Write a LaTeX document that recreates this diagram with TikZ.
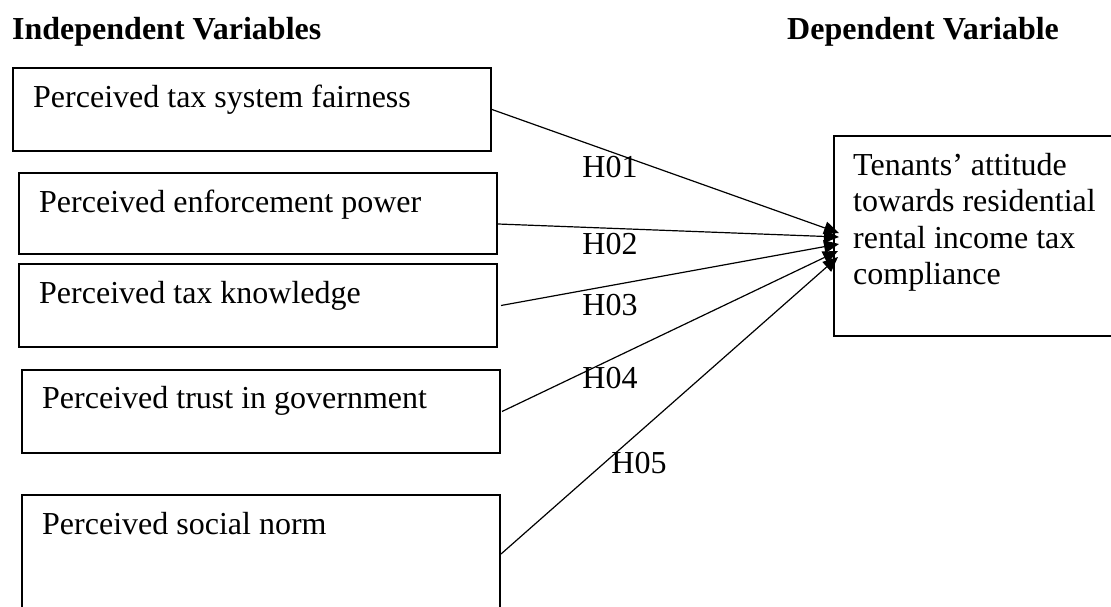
\documentclass[tikz,border=0pt]{standalone}
\usepackage{fontspec}
\setmainfont{Liberation Serif}
\usetikzlibrary{arrows.meta}
\begin{document}
\begin{tikzpicture}[x=1pt,y=-1pt,
  box/.style={draw, line width=2pt, rectangle, inner sep=0pt, anchor=north west},
  txt/.style={inner sep=0pt, anchor=base west, font=\fontsize{32}{37}\selectfont},
  head/.style={inner sep=0pt, anchor=base west, font=\fontsize{32}{37}\selectfont\bfseries},
  hyp/.style={inner sep=0pt, anchor=base, font=\fontsize{32}{37}\selectfont},
  link/.style={line width=1.2pt, -{Triangle[length=15pt,width=13pt]}}]
\useasboundingbox (0,0) rectangle (1111,607);

% headings
\node[head] (hi) at (12,40) {Independent Variables};
\node[head] (hd) at (787,40) {Dependent Variable};

% independent variable boxes
\node[box, minimum width=478pt, minimum height=83pt] (b1) at (12,67) {};
\node[box, minimum width=478pt, minimum height=81pt] (b2) at (18,172) {};
\node[box, minimum width=478pt, minimum height=83pt] (b3) at (18,263) {};
\node[box, minimum width=478pt, minimum height=83pt] (b4) at (21,369) {};
\node[box, minimum width=478pt, minimum height=118pt] (b5) at (21,494) {};

\node[txt] (t1) at (33,108) {Perceived tax system fairness};
\node[txt] (t2) at (39,212) {Perceived enforcement power};
\node[txt] (t3) at (39,303) {Perceived tax knowledge};
\node[txt] (t4) at (42,408) {Perceived trust in government};
\node[txt] (t5) at (42,534) {Perceived social norm};

% dependent variable box
\node[box, minimum width=300pt, minimum height=200pt] (dv) at (833,135) {};
\node[inner sep=0pt, anchor=north west, align=left,
      font=\fontsize{32}{36.5}\selectfont] (dvt) at (853,153)
  {Tenants’ attitude\\towards residential\\rental income tax\\compliance};

% connectors
\draw[link] (b1.east) -- ([xshift=6pt,yshift=3pt]dv.west);
\draw[link] ([yshift=-10.5pt]b2.east) -- ([xshift=6pt,yshift=-1pt]dv.west);
\draw[link] ([xshift=3pt]b3.east) -- ([xshift=6pt,yshift=-8pt]dv.west);
\draw[link] ([xshift=1pt]b4.east) -- ([xshift=5pt,yshift=-15pt]dv.west);
\draw[link] (b5.east) -- ([xshift=5pt,yshift=-21pt]dv.west);

% hypothesis labels
\node[hyp] (h1) at (610,177) {H01};
\node[hyp] (h2) at (610,254) {H02};
\node[hyp] (h3) at (610,315) {H03};
\node[hyp] (h4) at (610,388) {H04};
\node[hyp] (h5) at (639,473) {H05};
\end{tikzpicture}
\end{document}
